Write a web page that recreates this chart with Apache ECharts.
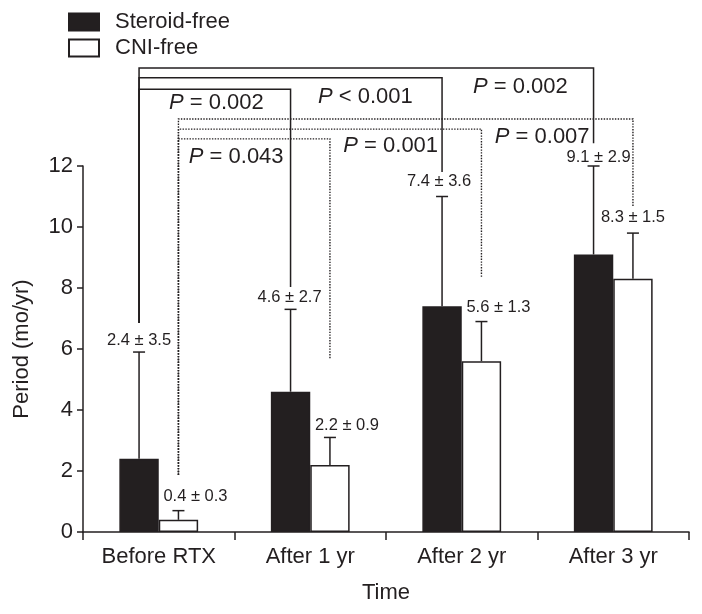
<!DOCTYPE html>
<html>
<head>
<meta charset="utf-8">
<script src="https://cdn.jsdelivr.net/npm/echarts@6/dist/echarts.min.js"></script>
<style>html,body{margin:0;padding:0;background:#fff}#c{width:702px;height:614px}</style>
</head>
<body>
<div id="c"></div>
<script>
// ---- data ----
const categories = ['Before RTX', 'After 1 yr', 'After 2 yr', 'After 3 yr'];
const steroidMean = [2.4, 4.6, 7.4, 9.1];
const steroidSD = [3.5, 2.7, 3.6, 2.9];
const cniMean = [0.4, 2.2, 5.6, 8.3];
const cniSD = [0.3, 0.9, 1.3, 1.5];
const steroidP = ['= 0.002', '< 0.001', '= 0.002'];   // Before RTX vs After 1/2/3 yr
const cniP = ['= 0.043', '= 0.001', '= 0.007'];
const yTicks = { min: 0, max: 12, interval: 2 };

// ---- layout (annotation geometry, in axis units / px) ----
const INK = '#231f20';
const FONT = 'Liberation Sans';
const BIG = 22;
const SMALL = 16.5;
const BAR_FRAC = 0.26;
const bracketS = { level: [14.52, 14.89, 15.21], dropEnd: [8.03, 11.8, 12.75], legEnd: 6.85,
                   dx: [1.5, -1, 2.5], dy: [14, 19, 19] };
const bracketC = { level: [12.89, 13.21, 13.54], dropEnd: [5.7, 8.36, 10.66], legEnd: 1.87,
                   dx: [-18, -15, -15], dy: [18, 17, 18] };
const labelShiftS = { dx: [0, -1, -3, 5], dy: [-12, -12, -15, -9] };
const labelShiftC = { dx: [17, 17, 17, 0], dy: [-14, -12, -14, -16] };

function errorRender(side, shift) {
  return function (params, api) {
    const i = api.value(0), m = api.value(1), sd = api.value(2);
    const bw = api.size([1, 0])[0] * BAR_FRAC;
    const base = api.coord([i, m]);
    const top = api.coord([i, m + sd]);
    const x = base[0] + side * bw / 2;
    return {
      type: 'group',
      children: [
        { type: 'line', shape: { x1: x, y1: base[1], x2: x, y2: top[1] }, style: { stroke: INK, lineWidth: 1.5 } },
        { type: 'line', shape: { x1: x - 6, y1: top[1], x2: x + 6, y2: top[1] }, style: { stroke: INK, lineWidth: 1.5 } },
        { type: 'text', style: { text: m.toFixed(1) + ' \u00b1 ' + sd.toFixed(1), x: x + shift.dx[i], y: top[1] + shift.dy[i],
            align: 'center', verticalAlign: 'middle', fontSize: SMALL, fontFamily: FONT, fill: INK } }
      ]
    };
  };
}

function bracketRender(side, cfg, texts, dashed) {
  return function (params, api) {
    const k = params.dataIndex;
    const to = api.value(0), lvl = api.value(1), dropEnd = api.value(2), legEnd = api.value(3);
    const bw = api.size([1, 0])[0] * BAR_FRAC;
    const off = side * bw / 2;
    const pL = api.coord([0, lvl]);
    const xL = pL[0] + off, yL = pL[1];
    const xR = api.coord([to, lvl])[0] + off;
    const yLeg = api.coord([0, legEnd])[1];
    const yDrop = api.coord([to, dropEnd])[1];
    const xPrev = to === 1 ? xL : api.coord([to - 1, lvl])[0] + off;
    const ls = { stroke: INK, lineWidth: dashed ? 1.4 : 1.5, fill: null };
    if (dashed) ls.lineDash = [1.4, 1.4];
    return {
      type: 'group',
      children: [
        { type: 'polyline', shape: { points: [[xL, yLeg], [xL, yL], [xR, yL], [xR, yDrop]] }, style: ls },
        { type: 'text', style: { text: '{i|P} ' + texts[k], x: (xPrev + xR) / 2 + cfg.dx[k], y: yL + cfg.dy[k],
            align: 'center', verticalAlign: 'middle', fontSize: BIG, fontFamily: FONT, fill: INK,
            rich: { i: { fontStyle: 'italic', fontSize: BIG, fontFamily: FONT, fill: INK } } } }
      ]
    };
  };
}

const chart = echarts.init(document.getElementById('c'), null, { renderer: 'canvas' });
chart.setOption({
  backgroundColor: '#fff',
  animation: false,
  textStyle: { fontFamily: FONT, color: INK },
  legend: {
    orient: 'vertical', left: 63, top: 6, itemWidth: 30, itemHeight: 17, itemGap: 4, icon: 'rect',
    textStyle: { fontSize: BIG, fontFamily: FONT, color: INK, padding: [0, 0, 0, 11] },
    data: ['Steroid-free', 'CNI-free']
  },
  grid: { left: 83, right: 13, top: 166, bottom: 82 },
  xAxis: {
    type: 'category', data: categories,
    axisLine: { lineStyle: { color: INK, width: 1.5 } },
    axisTick: { show: true, length: 8, interval: 0, lineStyle: { color: INK, width: 1.5 } },
    axisLabel: { fontSize: BIG, fontFamily: FONT, color: INK, margin: 14, interval: 0 },
    name: 'Time', nameLocation: 'middle', nameGap: 50,
    nameTextStyle: { fontSize: BIG, fontFamily: FONT, color: INK }
  },
  yAxis: {
    type: 'value', min: yTicks.min, max: yTicks.max, interval: yTicks.interval,
    axisLine: { show: true, lineStyle: { color: INK, width: 1.5 } },
    axisTick: { show: true, length: 6, lineStyle: { color: INK, width: 1.5 } },
    axisLabel: { fontSize: BIG, fontFamily: FONT, color: INK, margin: 10 },
    splitLine: { show: false },
    name: 'Period (mo/yr)', nameLocation: 'middle', nameGap: 50,
    nameTextStyle: { fontSize: BIG, fontFamily: FONT, color: INK }
  },
  series: [
    { name: 'Steroid-free', type: 'bar', data: steroidMean, barWidth: (BAR_FRAC * 100) + '%', barGap: '0%',
      itemStyle: { color: INK, borderColor: INK, borderWidth: 1.5 } },
    { name: 'CNI-free', type: 'bar', data: cniMean, barWidth: (BAR_FRAC * 100) + '%', barGap: '0%',
      itemStyle: { color: '#fff', borderColor: INK, borderWidth: 1.5 } },
    { type: 'custom', name: 'errS', z: 5, clip: false, renderItem: errorRender(-1, labelShiftS),
      encode: { x: 0, y: 1 }, data: steroidMean.map((m, i) => [i, m, steroidSD[i]]) },
    { type: 'custom', name: 'errC', z: 5, clip: false, renderItem: errorRender(1, labelShiftC),
      encode: { x: 0, y: 1 }, data: cniMean.map((m, i) => [i, m, cniSD[i]]) },
    { type: 'custom', name: 'brS', z: 6, clip: false, renderItem: bracketRender(-1, bracketS, steroidP, false),
      encode: { x: 0, y: 1 }, data: steroidP.map((p, k) => [k + 1, bracketS.level[k], bracketS.dropEnd[k], bracketS.legEnd]) },
    { type: 'custom', name: 'brC', z: 6, clip: false, renderItem: bracketRender(1, bracketC, cniP, true),
      encode: { x: 0, y: 1 }, data: cniP.map((p, k) => [k + 1, bracketC.level[k], bracketC.dropEnd[k], bracketC.legEnd]) }
  ]
});
</script>
</body>
</html>
